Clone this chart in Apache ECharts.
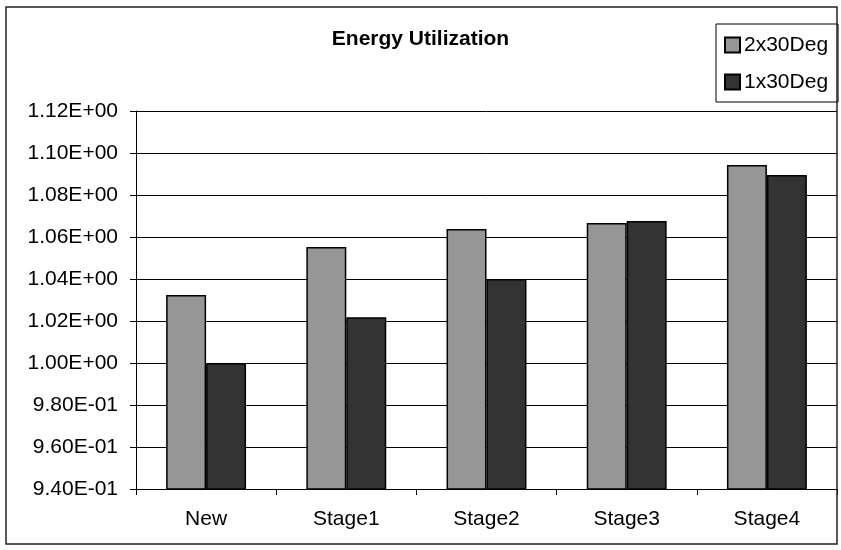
<!DOCTYPE html>
<html>
<head>
<meta charset="utf-8">
<script src="https://cdn.jsdelivr.net/npm/echarts@6/dist/echarts.min.js"></script>
<style>
  html, body { margin: 0; padding: 0; background: #fff; }
  #chart { width: 841px; height: 550px; }
</style>
</head>
<body>
<div id="chart"></div>
<script>
// Stages of the run and the energy utilization measured for each layout
const categories = ['New', 'Stage1', 'Stage2', 'Stage3', 'Stage4'];
const series2x30 = [1.0324, 1.0552, 1.0638, 1.0667, 1.0943];
const series1x30 = [1.0000, 1.0218, 1.0400, 1.0676, 1.0895];
const seriesNames = ['2x30Deg', '1x30Deg'];

// Scientific notation in the spreadsheet style, e.g. 9.40E-01
function sci(v) {
  const s = Number(v).toExponential(2);
  const parts = s.split('e');
  const exp = parseInt(parts[1], 10);
  const sign = exp < 0 ? '-' : '+';
  const mag = String(Math.abs(exp)).padStart(2, '0');
  return parts[0] + 'E' + sign + mag;
}

const FONT = 'Liberation Sans, Arial, sans-serif';
const chart = echarts.init(document.getElementById('chart'), null, { renderer: 'canvas' });

chart.setOption({
  animation: false,
  backgroundColor: '#fff',
  title: {
    text: 'Energy Utilization',
    left: 'center',
    top: 24,
    textStyle: { fontFamily: FONT, fontSize: 21, fontWeight: 'bold', color: '#000' }
  },
  legend: {
    orient: 'vertical',
    left: 716,
    top: 24,
    width: 121,
    padding: [9, 10, 8, 8],
    itemGap: 13,
    itemWidth: 15,
    itemHeight: 15,
    icon: 'rect',
    borderColor: '#000',
    borderWidth: 1,
    backgroundColor: '#fff',
    textStyle: { fontFamily: FONT, fontSize: 21, color: '#000', lineHeight: 24, padding: [0, 0, 0, -1] },
    data: seriesNames
  },
  grid: { left: 136, right: 4, top: 111, bottom: 61, containLabel: false },
  xAxis: {
    type: 'category',
    data: categories,
    axisLine: { lineStyle: { color: '#000', width: 1 } },
    axisTick: { show: true, alignWithLabel: false, length: 6, lineStyle: { color: '#000' } },
    axisLabel: { fontFamily: FONT, fontSize: 21, color: '#000', margin: 20 },
    splitLine: { show: false }
  },
  yAxis: {
    type: 'value',
    min: 0.94,
    max: 1.12,
    interval: 0.02,
    axisLine: { show: true, lineStyle: { color: '#000', width: 1 } },
    axisTick: { show: true, length: 6, lineStyle: { color: '#000' } },
    axisLabel: { fontFamily: FONT, fontSize: 21, color: '#000', margin: 18, formatter: sci },
    splitLine: { show: true, lineStyle: { color: '#000', width: 1 } }
  },
  series: [
    {
      name: seriesNames[0],
      type: 'bar',
      data: series2x30,
      barGap: '0%',
      barCategoryGap: '43%',
      itemStyle: { color: '#969696', borderColor: '#000', borderWidth: 1.5 }
    },
    {
      name: seriesNames[1],
      type: 'bar',
      data: series1x30,
      barGap: '0%',
      barCategoryGap: '43%',
      itemStyle: { color: '#333333', borderColor: '#000', borderWidth: 1.5 }
    }
  ],
  graphic: [
    {
      type: 'rect',
      silent: true,
      z: 100,
      shape: { x: 6, y: 7, width: 831, height: 537 },
      style: { fill: 'none', stroke: '#222', lineWidth: 1.5 }
    }
  ]
});
</script>
</body>
</html>
